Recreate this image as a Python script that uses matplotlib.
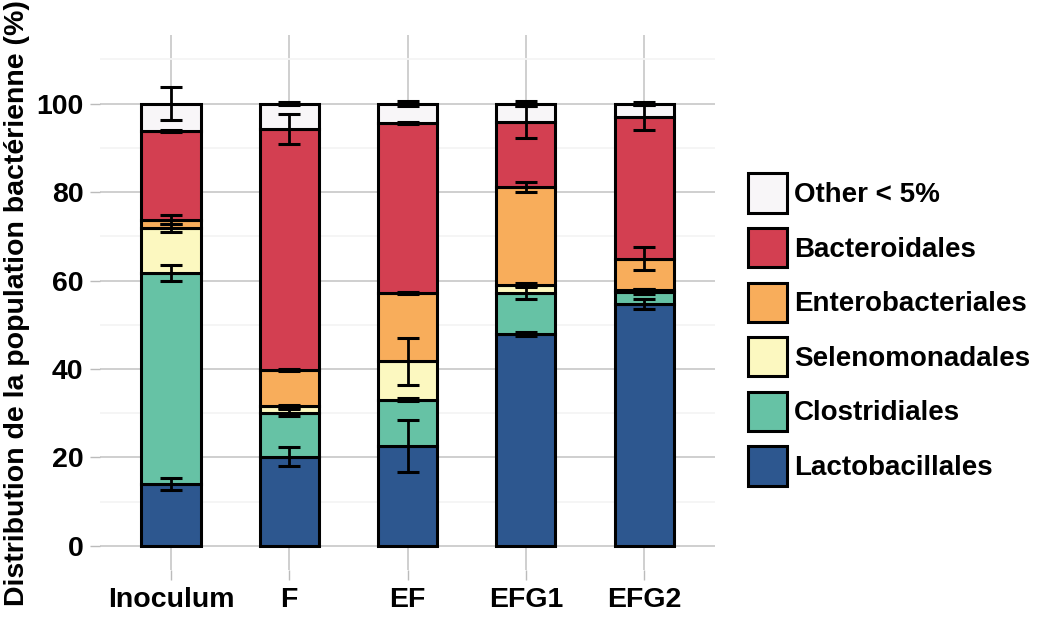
import numpy as np
import matplotlib
matplotlib.use('Agg')
import matplotlib.pyplot as plt
from matplotlib.patches import Patch

plt.rcParams['font.family'] = ['Liberation Sans', 'DejaVu Sans']
plt.rcParams['font.weight'] = 'bold'

# données
echantillons = ['Inoculum', 'F', 'EF', 'EFG1', 'EFG2']
ordres = ['Lactobacillales', 'Clostridiales', 'Selenomonadales',
          'Enterobacteriales', 'Bacteroidales', 'Other < 5%']
couleurs = ['#2D578F', '#66C2A5', '#FCF8C0', '#F8AD5B', '#D33F51', '#F8F6F8']

lacto = [14.0, 20.2, 22.6, 47.9, 54.7]
clostri = [47.7, 9.9, 10.5, 9.3, 2.8]
seleno = [10.1, 1.5, 8.7, 1.9, 0.4]
entero = [2.0, 8.1, 15.4, 22.1, 7.0]
bactero = [20.0, 54.5, 38.4, 14.6, 32.0]
autre = [6.2, 5.8, 4.4, 4.2, 3.1]

err_lacto = [1.3, 2.1, 5.8, 0.5, 1.2]
err_clostri = [1.9, 0.8, 0.4, 1.4, 0.5]
err_seleno = [0.9, 0.3, 5.3, 0.4, 0.3]
err_entero = [1.0, 0.2, 0.2, 1.1, 2.6]
err_bactero = [0.3, 3.4, 0.3, 3.6, 2.9]
err_autre = [3.8, 0.4, 0.5, 0.5, 0.3]

valeurs = [lacto, clostri, seleno, entero, bactero, autre]
erreurs = [err_lacto, err_clostri, err_seleno, err_entero, err_bactero, err_autre]

fig = plt.figure(figsize=(10.41, 6.26), dpi=100)
ax = fig.add_axes([0.096, 0.089, 0.591, 0.855])

x = np.arange(len(echantillons))
bas = np.zeros(len(echantillons))
for v, c in zip(valeurs, couleurs):
    ax.bar(x, v, width=0.5, bottom=bas, color=c, edgecolor='black',
           linewidth=2.2, zorder=3)
    bas = bas + np.array(v)

# barres d'erreur au sommet de chaque segment
bas = np.zeros(len(echantillons))
for v, e in zip(valeurs, erreurs):
    bas = bas + np.array(v)
    ax.errorbar(x, bas, yerr=e, fmt='none', ecolor='black', elinewidth=2,
                capsize=8, capthick=2.2, zorder=4)

ax.set_xlim(-0.6, 4.6)
ax.set_ylim(-5.5, 115.5)
ax.set_yticks([0, 20, 40, 60, 80, 100])
ax.set_yticks([10, 30, 50, 70, 90, 110], minor=True)
ax.set_xticks(x)
ax.set_xticklabels(echantillons)
ax.grid(which='major', color='#CCCCCC', linewidth=1.3, zorder=0)
ax.grid(which='minor', axis='y', color='#F4F4F4', linewidth=1.3, zorder=0)
ax.tick_params(which='major', length=7, color='#BBBBBB', width=1,
               labelsize=20.5, labelcolor='black', pad=5)
ax.tick_params(which='minor', length=0)
for s in ax.spines.values():
    s.set_visible(False)
ax.set_ylabel('Distribution de la population bactérienne (%)', fontsize=20.5,
              fontweight='bold', labelpad=4)

poignees = [Patch(facecolor=c, edgecolor='black', linewidth=2.2, label=o)
            for c, o in zip(couleurs, ordres)][::-1]
fig.legend(handles=poignees, loc='upper left', bbox_to_anchor=(0.7185, 0.723),
           frameon=False, fontsize=20, handlelength=1.4, handleheight=1.8,
           labelspacing=0.55, handletextpad=0.25, borderaxespad=0, borderpad=0)

fig.savefig('out.png', dpi=100)
